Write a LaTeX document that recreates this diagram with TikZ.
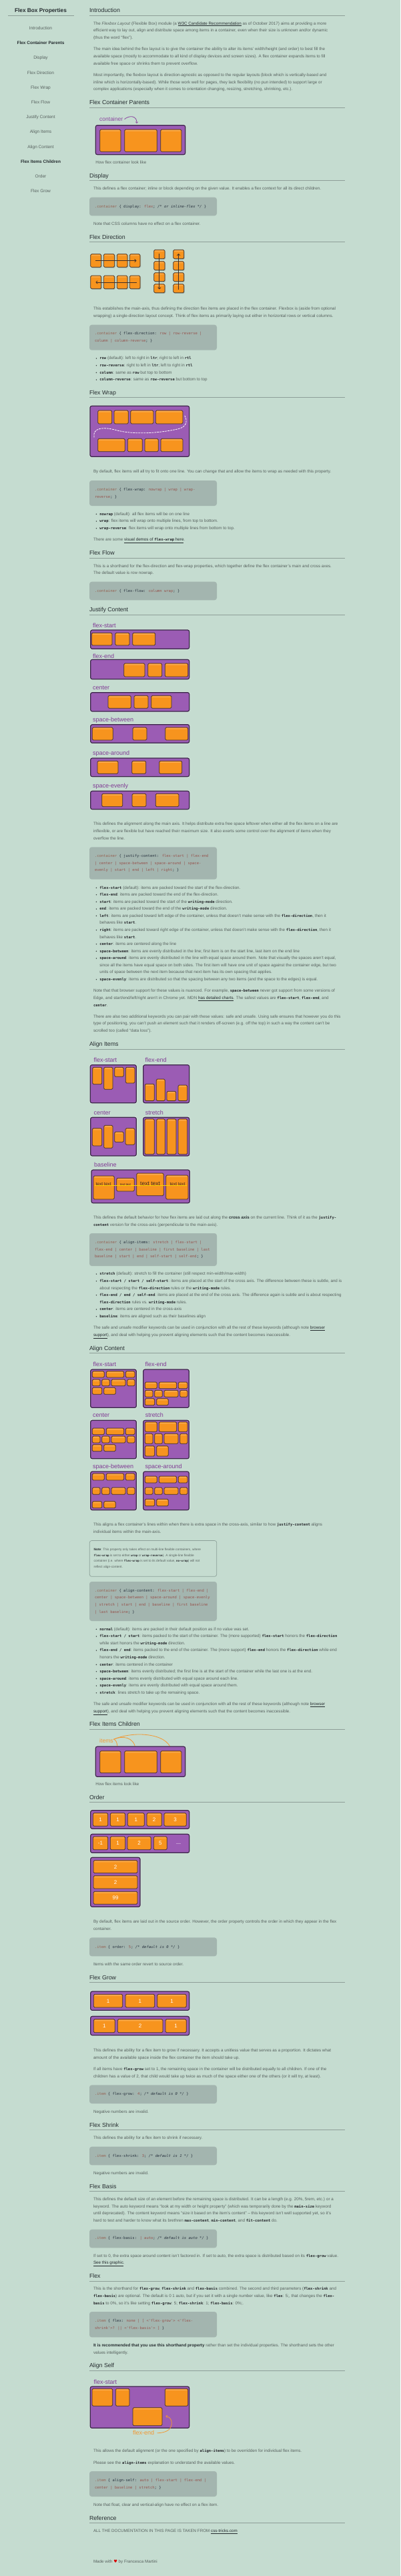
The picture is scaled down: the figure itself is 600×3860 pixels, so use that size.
\documentclass[tikz,border=0pt]{standalone}
\usepackage{fontspec}
\setmainfont{Liberation Sans}
\newfontfamily\codefont[Scale=0.88]{DejaVu Sans Mono}
\newfontfamily\symfont{DejaVu Sans}
\usetikzlibrary{arrows.meta}
\definecolor{bg}{RGB}{197,220,208}
\definecolor{bodyc}{RGB}{88,98,95}
\definecolor{headc}{RGB}{38,45,48}
\definecolor{rulec}{RGB}{142,158,152}
\definecolor{codebg}{RGB}{163,181,175}
\definecolor{csel}{RGB}{150,98,82}
\definecolor{cval}{RGB}{150,84,78}
\definecolor{cdark}{RGB}{40,50,62}
\definecolor{inc}{RGB}{40,42,46}
\definecolor{purp}{RGB}{155,92,180}
\definecolor{pdark}{RGB}{58,40,72}
\definecolor{orng}{RGB}{247,148,30}
\definecolor{odark}{RGB}{62,46,40}
\definecolor{plabel}{RGB}{128,58,148}
\definecolor{clabel}{RGB}{140,70,160}
\definecolor{olabel}{RGB}{242,152,52}
\definecolor{notebd}{RGB}{140,160,152}
\definecolor{bltc}{RGB}{58,42,30}
\definecolor{yline}{RGB}{250,214,0}
\newcommand\bodysize{\fontsize{6.27}{10.67}\selectfont}
\newcommand\notesize{\fontsize{4.8}{8.6}\selectfont}
\newcommand\headsize{\fontsize{8.8}{10}\selectfont}
\newcommand\labsize{\fontsize{9}{9}\selectfont}
\newcommand\IC[1]{{\codefont\bfseries\color{inc}#1}}
\newcommand\LK[1]{{\color{headc}\underline{#1}}}
\newcommand\Csel[1]{\textcolor{csel}{#1}}
\newcommand\Cprop[1]{\textcolor{cdark}{#1}}
\newcommand\Cval[1]{\textcolor{cval}{#1}}
\newcommand\Ccom[1]{\textcolor{cdark}{\itshape #1}}
\newcommand\sq{\textquotesingle}
\newcounter{nid}
\tikzset{
  bodytxt/.style={anchor=base west, inner sep=0pt, outer sep=0pt, font=\bodysize, text=bodyc},
  notetxt/.style={anchor=base west, inner sep=0pt, outer sep=0pt, font=\notesize, text=bodyc},
  headtxt/.style={anchor=base west, inner sep=0pt, outer sep=0pt, font=\headsize, text=headc},
  codetxt/.style={anchor=base west, inner sep=0pt, outer sep=0pt, font=\bodysize\codefont, text=cdark},
  sidetxt/.style={anchor=base, inner sep=0pt, font=\fontsize{6.55}{7}\selectfont, text=bodyc},
  sidebold/.style={anchor=base, inner sep=0pt, font=\fontsize{6.5}{7}\selectfont\bfseries, text=headc},
  plab/.style={anchor=base west, inner sep=0pt, font=\labsize, text=plabel},
  olab/.style={anchor=base west, inner sep=0pt, font=\fontsize{8.6}{9}\selectfont, text=olabel},
  numtxt/.style={inner sep=0pt, font=\fontsize{8}{8}\selectfont, text=white},
  bltxt/.style={anchor=base west, inner sep=0pt, text=bltc},
  pbox/.style={fill=purp, draw=pdark, line width=1.2pt, rounded corners=2.5pt,
    preaction={draw=white, draw opacity=0.35, line width=2.8pt}},
  obox/.style={fill=orng, draw=odark, line width=0.7pt, rounded corners=1.6pt},
  ohl/.style={fill=white, fill opacity=0.22, rounded corners=0.8pt},
  dshadow/.style={fill=black, fill opacity=0.18, rounded corners=1.6pt},
  dirarrow/.style={draw=odark, line width=0.8pt, -{Straight Barb[length=2.2pt,width=4.4pt]}},
  oarrow/.style={draw=olabel, line width=0.8pt, -{Straight Barb[length=1.8pt,width=3.4pt]}},
  parrow/.style={draw=clabel, line width=0.8pt, -{Straight Barb[length=1.8pt,width=3.4pt]}},
  rule/.style={draw=rulec, line width=1pt},
}
\newcommand\TL[3][140]{\stepcounter{nid}\node[bodytxt] (t\arabic{nid}) at (#1,{#2+1.9}) {#3};}
\newcommand\NL[2]{\stepcounter{nid}\node[notetxt] (n\arabic{nid}) at (140.7,{#1+1.5}) {#2};}
\newcommand\BL[2]{\fill[bodyc!70!black] (144.4,{#1}) circle (0.85);\TL[149.3]{#1}{#2}}
\newcommand\HD[3]{\stepcounter{nid}\node[headtxt] (h\arabic{nid}) at (134,{#1+3.1}) {#3};\draw[rule] (134,#2) -- (517,#2);}
\newcommand\CB[2]{\fill[codebg, rounded corners=3.5pt] (134,#1) rectangle (325,#2);}
\newcommand\CL[2]{\stepcounter{nid}\node[codetxt] (c\arabic{nid}) at (142,{#1+1.9}) {#2};}
\newcommand\PB[4]{\draw[pbox] ({#1},{#2}) rectangle ({#3},{#4});}
\newcommand\OI[4]{\draw[obox] ({#1},{#2}) rectangle ({#3},{#4});\fill[ohl] ({#1+1.3},{#2+1.1}) rectangle ({#3-1.3},{#2+2.6});}
\newcommand\DI[4]{\fill[dshadow] ({#1+1},{#2+1.2}) rectangle ({#3+1},{#4+1.2});\OI{#1}{#2}{#3}{#4}}
\newcommand\ON[5]{\OI{#1}{#2}{#3}{#4}\stepcounter{nid}\node[numtxt] (o\arabic{nid}) at ({(#1+#3)/2},{(#2+#4)/2+0.3}) {#5};}
\newcommand\PL[3]{\stepcounter{nid}\node[plab] (l\arabic{nid}) at (#1,{#2+3.0}) {#3};}
% align-content box: left x, top, bottom, then three row y-ranges
\newcommand\ACB[9]{\PB{#1}{#2}{#1+68.6}{#3}%
  \OI{#1+2.6}{#4}{#1+20.6}{#5}\OI{#1+23.6}{#4}{#1+50}{#5}\OI{#1+52.6}{#4}{#1+66.3}{#5}%
  \OI{#1+2.6}{#6}{#1+14.3}{#7}\OI{#1+17}{#6}{#1+28.6}{#7}\OI{#1+31.3}{#6}{#1+52.3}{#7}\OI{#1+55}{#6}{#1+66.3}{#7}%
  \OI{#1+2.6}{#8}{#1+17}{#9}\OI{#1+20}{#8}{#1+37.6}{#9}}
\begin{document}
\begin{tikzpicture}[x=1pt,y=-1pt]
\fill[bg] (0,0) rectangle (600,3860);
\useasboundingbox (0,0) rectangle (600,3860);

% ---------------- sidebar
\node[anchor=base, inner sep=0pt, font=\fontsize{8.3}{9}\selectfont\bfseries, text=headc] (sbtitle) at (61,18.7) {Flex Box Properties};
\draw[rule] (12,23.3) -- (111,23.3);
\node[sidetxt]  (sb1)  at (61,44.2)  {Introduction};
\node[sidebold] (sb2)  at (61,66.5)  {Flex Container Parents};
\node[sidetxt]  (sb3)  at (61,88.9)  {Display};
\node[sidetxt]  (sb4)  at (61,111.2) {Flex Direction};
\node[sidetxt]  (sb5)  at (61,133.2) {Flex Wrap};
\node[sidetxt]  (sb6)  at (61,155.2) {Flex Flow};
\node[sidetxt]  (sb7)  at (61,177.5) {Justify Content};
\node[sidetxt]  (sb8)  at (61,199.9) {Align Items};
\node[sidetxt]  (sb9)  at (61,222.2) {Align Content};
\node[sidebold] (sb10) at (61,244.2) {Flex Items Children};
\node[sidetxt]  (sb11) at (61,266.2) {Order};
\node[sidetxt]  (sb12) at (61,288.5) {Flex Grow};

% ---------------- Introduction
\HD{15.7}{23.3}{Introduction}
\TL{35.3}{The \textit{Flexbox Layout} (Flexible Box) module (a \LK{W3C Candidate Recommendation} as of October 2017) aims at providing a more}
\TL{46}{efficient way to lay out, align and distribute space among items in a container, even when their size is unknown and/or dynamic}
\TL{56.7}{(thus the word “flex”).}
\TL{74}{The main idea behind the flex layout is to give the container the ability to alter its items’ width/height (and order) to best fill the}
\TL{84.7}{available space (mostly to accommodate to all kind of display devices and screen sizes). A flex container expands items to fill}
\TL{95.3}{available free space or shrinks them to prevent overflow.}
\TL{113}{Most importantly, the flexbox layout is direction-agnostic as opposed to the regular layouts (block which is vertically-based and}
\TL{123.3}{inline which is horizontally-based). While those work well for pages, they lack flexibility (no pun intended) to support large or}
\TL{134}{complex applications (especially when it comes to orientation changing, resizing, stretching, shrinking, etc.).}

% ---------------- Flex Container Parents
\HD{153.7}{161.7}{Flex Container Parents}
\node[anchor=base west, inner sep=0pt, font=\fontsize{8.5}{9}\selectfont, text=clabel] (lblcontainer) at (149,181.6) {container};
\coordinate (cstart) at (186.5,178.6);
\coordinate (ctarget) at (205,185);
\draw[parrow] (cstart) .. controls (194,172.5) and (205,173) .. (ctarget);
\PB{143.3}{187.7}{277.7}{231.7}
\OI{149.7}{194}{181}{227.3}\OI{186.7}{194}{235.3}{227.3}\OI{240.7}{194}{272}{227.3}
\TL[143.3]{243.7}{How flex container look like}

% ---------------- Display
\HD{263.3}{270.7}{Display}
\TL{282.7}{This defines a flex container; inline or block depending on the given value. It enables a flex context for all its direct children.}
\CB{295.7}{323.3}
\CL{309.3}{\Csel{.container} \{ \Cprop{display:} \Cval{flex}; \Ccom{/* or inline-flex */} \}}
\TL{335.3}{Note that CSS columns have no effect on a flex container.}

% ---------------- Flex Direction
\HD{355}{362.7}{Flex Direction}
\DI{135.7}{380.7}{151.7}{400.3}\DI{155.3}{380.7}{171.7}{400.3}\DI{175.3}{380.7}{191}{400.3}\DI{194.3}{380.7}{210}{400.3}
\DI{135.7}{413}{151.7}{432.7}\DI{155.3}{413}{171.7}{432.7}\DI{175.3}{413}{191}{432.7}\DI{194.3}{413}{210}{432.7}
\DI{230.7}{374.3}{247}{387.7}\DI{230.7}{391.7}{247}{404.7}\DI{230.7}{408.7}{247}{421.7}\DI{230.7}{425.7}{247}{438.7}
\DI{259.7}{374.3}{275.7}{387.7}\DI{259.7}{391.7}{275.7}{404.7}\DI{259.7}{408.7}{275.7}{421.7}\DI{259.7}{425.7}{275.7}{438.7}
\coordinate (r1a) at (143.3,390.7); \coordinate (r1b) at (204.5,390.7);
\coordinate (r2a) at (204.5,423);   \coordinate (r2b) at (143.3,423);
\coordinate (c1a) at (238.8,380);   \coordinate (c1b) at (238.8,433.5);
\coordinate (c2a) at (267.7,433.5); \coordinate (c2b) at (267.7,380);
\draw[dirarrow] (r1a) -- (r1b);
\draw[dirarrow] (r2a) -- (r2b);
\draw[dirarrow] (c1a) -- (c1b);
\draw[dirarrow] (c2a) -- (c2b);
\TL{463}{This establishes the main-axis, thus defining the direction flex items are placed in the flex container. Flexbox is (aside from optional}
\TL{474}{wrapping) a single-direction layout concept. Think of flex items as primarily laying out either in horizontal rows or vertical columns.}
\CB{486.7}{524.7}
\CL{500}{\Csel{.container} \{ \Cprop{flex-direction:} \Cval{row | row-reverse |}}
\CL{511}{\Cval{column | column-reverse}; \}}
\BL{537}{\IC{row} (default): left to right in \IC{ltr}; right to left in \IC{rtl}}
\BL{547.7}{\IC{row-reverse}: right to left in \IC{ltr}; left to right in \IC{rtl}}
\BL{558.3}{\IC{column}: same as \IC{row} but top to bottom}
\BL{569}{\IC{column-reverse}: same as \IC{row-reverse} but bottom to top}

% ---------------- Flex Wrap
\HD{588.3}{595.7}{Flex Wrap}
\PB{135}{608.3}{283.7}{684.3}
\OI{146.7}{615}{167.7}{635}\OI{171}{615}{192.3}{635}\OI{195.7}{615}{230}{635}\OI{233.3}{615}{274}{635}
\OI{146.7}{657.3}{187.3}{676.7}\OI{191.3}{657.3}{213.3}{676.7}\OI{217}{657.3}{237.3}{676.7}\OI{241}{657.3}{274}{676.7}
\draw[white, line width=0.8pt, dash pattern=on 2.4pt off 1.6pt, line cap=round]
  (277,623) .. controls (281,631) and (280,639) .. (268,642.5)
  .. controls (240,649) and (200,652) .. (172,644)
  .. controls (156,640) and (143,641) .. (141,650) -- (141,656);
\TL{707}{By default, flex items will all try to fit onto one line. You can change that and allow the items to wrap as needed with this property.}
\CB{720}{758}
\CL{733.7}{\Csel{.container} \{ \Cprop{flex-wrap:} \Cval{nowrap | wrap | wrap-}}
\CL{744.3}{\Cval{reverse}; \}}
\BL{770.3}{\IC{nowrap} (default): all flex items will be on one line}
\BL{781}{\IC{wrap}: flex items will wrap onto multiple lines, from top to bottom.}
\BL{791.7}{\IC{wrap-reverse}: flex items will wrap onto multiple lines from bottom to top.}
\TL{809}{There are some \LK{visual demos of \IC{flex-wrap} here}.}

% ---------------- Flex Flow
\HD{828.7}{836}{Flex Flow}
\TL{848.3}{This is a shorthand for the flex-direction and flex-wrap properties, which together define the flex container’s main and cross axes.}
\TL{859}{The default value is row nowrap.}
\CB{871.7}{899.3}
\CL{885.7}{\Csel{.container} \{ \Cprop{flex-flow:} \Cval{column wrap}; \}}

% ---------------- Justify Content
\HD{913.7}{921.3}{Justify Content}
\PL{139}{937.3}{flex-start}
\PB{135.7}{944}{283.7}{972.3}
\OI{137.3}{948.3}{168}{967}\OI{172.7}{948.3}{194}{967}\OI{198.7}{948.3}{232.7}{967}
\PL{139}{983.3}{flex-end}
\PB{135.7}{988.3}{283.7}{1017.7}
\OI{185.7}{994}{217}{1014}\OI{221.7}{994}{242.7}{1014}\OI{247.3}{994}{281.7}{1014}
\PL{139}{1030.3}{center}
\PB{135.7}{1037.7}{283.7}{1066}
\OI{162}{1042.3}{196.3}{1061.3}\OI{201}{1042.3}{222}{1061.3}\OI{226.7}{1042.3}{257}{1061.3}
\PL{139}{1078}{space-between}
\PB{135.7}{1085.7}{283.7}{1113.3}
\OI{138.3}{1090}{169.3}{1109}\OI{199}{1090}{220}{1109}\OI{247.7}{1090}{281.7}{1109}
\PL{139}{1128.3}{space-around}
\PB{135.7}{1136}{283.7}{1163.7}
\OI{146}{1140.3}{177}{1159.3}\OI{197.7}{1140.3}{218.7}{1159.3}\OI{238.7}{1140.3}{272.7}{1159.3}
\PL{139}{1177.7}{space-evenly}
\PB{135.7}{1185.3}{283.7}{1212.7}
\OI{152.7}{1189.3}{183.7}{1208.7}\OI{198}{1189.3}{219}{1208.7}\OI{233.3}{1189.3}{268}{1208.7}
\TL{1235}{This defines the alignment along the main axis. It helps distribute extra free space leftover when either all the flex items on a line are}
\TL{1245.7}{inflexible, or are flexible but have reached their maximum size. It also exerts some control over the alignment of items when they}
\TL{1256.3}{overflow the line.}
\CB{1269.3}{1317.7}
\CL{1283}{\Csel{.container} \{ \Cprop{justify-content:} \Cval{flex-start | flex-end}}
\CL{1293.3}{\Cval{| center | space-between | space-around | space-}}
\CL{1304}{\Cval{evenly | start | end | left | right}; \}}
\BL{1330.3}{\IC{flex-start} (default): items are packed toward the start of the flex-direction.}
\BL{1340.7}{\IC{flex-end}: items are packed toward the end of the flex-direction.}
\BL{1351.3}{\IC{start}: items are packed toward the start of the \IC{writing-mode} direction.}
\BL{1362}{\IC{end}: items are packed toward the end of the \IC{writing-mode} direction.}
\BL{1372.3}{\IC{left}: items are packed toward left edge of the container, unless that doesn’t make sense with the \IC{flex-direction}, then it}
\TL[149.3]{1383}{behaves like \IC{start}.}
\BL{1393.7}{\IC{right}: items are packed toward right edge of the container, unless that doesn’t make sense with the \IC{flex-direction}, then it}
\TL[149.3]{1404.3}{behaves like \IC{start}.}
\BL{1414.7}{\IC{center}: items are centered along the line}
\BL{1425.3}{\IC{space-between}: items are evenly distributed in the line; first item is on the start line, last item on the end line}
\BL{1436}{\IC{space-around}: items are evenly distributed in the line with equal space around them. Note that visually the spaces aren’t equal,}
\TL[149.3]{1446.3}{since all the items have equal space on both sides. The first item will have one unit of space against the container edge, but two}
\TL[149.3]{1457}{units of space between the next item because that next item has its own spacing that applies.}
\BL{1467.7}{\IC{space-evenly}: items are distributed so that the spacing between any two items (and the space to the edges) is equal.}
\TL{1485}{Note that that browser support for these values is nuanced. For example, \IC{space-between} never got support from some versions of}
\TL{1495.7}{Edge, and start/end/left/right aren’t in Chrome yet. MDN \LK{has detailed charts}. The safest values are \IC{flex-start}, \IC{flex-end}, and}
\TL{1506.3}{\IC{center}.}
\TL{1523.3}{There are also two additional keywords you can pair with these values: safe and unsafe. Using safe ensures that however you do this}
\TL{1534}{type of positioning, you can’t push an element such that it renders off-screen (e.g. off the top) in such a way the content can’t be}
\TL{1544.7}{scrolled too (called “data loss”).}

% ---------------- Align Items
\HD{1564.3}{1572}{Align Items}
\PL{140.3}{1588.3}{flex-start}
\PL{217.3}{1588.3}{flex-end}
\PB{135.3}{1595.7}{204.3}{1652.7}
\OI{138.7}{1599.3}{152.7}{1624.7}\OI{155.7}{1599.3}{169}{1632.3}\OI{171.7}{1599.3}{185.3}{1613.3}\OI{188.3}{1599.3}{202}{1623}
\PB{214.7}{1595.7}{283.7}{1652.7}
\OI{217.3}{1624.3}{231.3}{1649.5}\OI{234.3}{1617}{247.3}{1649.5}\OI{250}{1635.3}{263.7}{1649.5}\OI{267}{1626}{280.7}{1649.5}
\PL{140.3}{1667}{center}
\PL{217.7}{1667}{stretch}
\PB{135.7}{1674.3}{204.3}{1732}
\OI{138.3}{1690.7}{152.7}{1717}\OI{155.7}{1686.3}{169}{1720.3}\OI{171.7}{1696}{185.3}{1711.3}\OI{188}{1690.7}{202}{1715.3}
\PB{214.7}{1674.3}{283.7}{1732}
\OI{217}{1676.7}{231.3}{1729.7}\OI{234.7}{1676.7}{247.3}{1729.7}\OI{250.3}{1676.7}{264}{1729.7}\OI{267}{1676.7}{280.7}{1729.7}
\PL{141}{1745.3}{baseline}
\PB{137}{1753}{284.3}{1802.7}
\OI{140}{1762}{171.3}{1797}\OI{174.7}{1765.3}{201.3}{1785}\OI{204.7}{1758}{245.3}{1791.7}\OI{248.7}{1761}{282}{1797}
\node[bltxt, font=\fontsize{6.6}{7}\selectfont] (bt1) at (143.3,1776) {text text};
\node[bltxt, font=\fontsize{4.5}{5}\selectfont] (bt2) at (180,1776) {text text};
\node[bltxt, font=\fontsize{8.5}{9}\selectfont] (bt3) at (210,1776) {text text};
\node[bltxt, font=\fontsize{6.6}{7}\selectfont] (bt4) at (254.3,1776) {text text};
\coordinate (bla) at (141.7,1776); \coordinate (blb) at (280,1776);
\draw[yline, line width=0.9pt] (bla) -- (blb);
\TL{1824.7}{This defines the default behavior for how flex items are laid out along the {\color{headc}\bfseries cross axis} on the current line. Think of it as the \IC{justify-}}
\TL{1835.3}{\IC{content} version for the cross-axis (perpendicular to the main-axis).}
\CB{1848}{1897}
\CL{1861.7}{\Csel{.container} \{ \Cprop{align-items:} \Cval{stretch | flex-start |}}
\CL{1872.3}{\Cval{flex-end | center | baseline | first baseline | last}}
\CL{1883}{\Cval{baseline | start | end | self-start | self-end}; \}}
\BL{1909}{\IC{stretch} (default): stretch to fill the container (still respect min-width/max-width)}
\BL{1919.7}{\IC{flex-start / start / self-start}: items are placed at the start of the cross axis. The difference between these is subtle, and is}
\TL[149.3]{1930.3}{about respecting the \IC{flex-direction} rules or the \IC{writing-mode} rules.}
\BL{1940.7}{\IC{flex-end / end / self-end}: items are placed at the end of the cross axis. The difference again is subtle and is about respecting}
\TL[149.3]{1951.3}{\IC{flex-direction} rules vs. \IC{writing-mode} rules.}
\BL{1962}{\IC{center}: items are centered in the cross-axis}
\BL{1972.7}{\IC{baseline}: items are aligned such as their baselines align}
\TL{1990}{The safe and unsafe modifier keywords can be used in conjunction with all the rest of these keywords (although note \LK{browser}}
\TL{2000.7}{\LK{support}), and deal with helping you prevent aligning elements such that the content becomes inaccessible.}

% ---------------- Align Content
\HD{2020}{2027.7}{Align Content}
\PL{139.3}{2044.3}{flex-start}
\PL{217.3}{2044.3}{flex-end}
\ACB{135.7}{2052}{2109.3}{2054.7}{2064}{2067}{2076.7}{2079.3}{2089.3}
\ACB{214.7}{2052}{2109.3}{2071}{2080.7}{2083.3}{2093.3}{2095.7}{2105.7}
\PL{139}{2120.7}{center}
\PL{217.7}{2120.7}{stretch}
\ACB{135.7}{2128.3}{2185.7}{2140}{2149.7}{2152}{2162}{2164.7}{2174.7}
\ACB{214.7}{2128.3}{2185.7}{2130.7}{2145.3}{2148.3}{2163.3}{2166.7}{2182}
\PL{139}{2197.3}{space-between}
\PL{217.3}{2197.3}{space-around}
\ACB{135.7}{2205}{2262.7}{2208}{2218}{2229}{2239.3}{2249.7}{2259.7}
\ACB{214.7}{2205}{2262.7}{2212}{2222}{2229}{2239.3}{2246.3}{2256.7}
\TL{2285}{This aligns a flex container’s lines within when there is extra space in the cross-axis, similar to how \IC{justify-content} aligns}
\TL{2295.3}{individual items within the main-axis.}
\draw[notebd, line width=0.7pt, rounded corners=3pt] (134.3,2308.5) rectangle (324.7,2362.3);
\NL{2322.3}{{\color{headc}\bfseries Note}: This property only takes effect on multi-line flexible containers, where}
\NL{2331}{\IC{flex-wrap} is set to either \IC{wrap} or \IC{wrap-reverse}). A single-line flexible}
\NL{2339.3}{container (i.e. where \IC{flex-wrap} is set to its default value, \IC{no-wrap}) will not}
\NL{2348}{reflect align-content.}
\CB{2370}{2429}
\CL{2383.7}{\Csel{.container} \{ \Cprop{align-content:} \Cval{flex-start | flex-end |}}
\CL{2394}{\Cval{center | space-between | space-around | space-evenly}}
\CL{2404.7}{\Cval{| stretch | start | end | baseline | first baseline}}
\CL{2415.3}{\Cval{| last baseline}; \}}
\BL{2441.3}{\IC{normal} (default): items are packed in their default position as if no value was set.}
\BL{2452}{\IC{flex-start / start}: items packed to the start of the container. The (more supported) \IC{flex-start} honors the \IC{flex-direction}}
\TL[149.3]{2462.7}{while start honors the \IC{writing-mode} direction.}
\BL{2473}{\IC{flex-end / end}: items packed to the end of the container. The (more support) \IC{flex-end} honors the \IC{flex-direction} while end}
\TL[149.3]{2483.7}{honors the \IC{writing-mode} direction.}
\BL{2494.3}{\IC{center}: items centered in the container}
\BL{2504.7}{\IC{space-between}: items evenly distributed; the first line is at the start of the container while the last one is at the end.}
\BL{2515.3}{\IC{space-around}: items evenly distributed with equal space around each line.}
\BL{2526}{\IC{space-evenly}: items are evenly distributed with equal space around them.}
\BL{2536.7}{\IC{stretch}: lines stretch to take up the remaining space.}
\TL{2553.7}{The safe and unsafe modifier keywords can be used in conjunction with all the rest of these keywords (although note \LK{browser}}
\TL{2564.3}{\LK{support}), and deal with helping you prevent aligning elements such that the content becomes inaccessible.}

% ---------------- Flex Items Children
\HD{2583.7}{2591.3}{Flex Items Children}
\node[olab] (lblitems) at (149,2611.6) {items};
\coordinate (ista) at (170.3,2606.3);
\coordinate (it1) at (176,2622.3);
\coordinate (it2) at (203.3,2622);
\coordinate (it3) at (256.7,2622.3);
\draw[oarrow] (ista) .. controls (174,2606.5) and (176,2612) .. (it1);
\draw[oarrow] (ista) .. controls (183,2600.5) and (201,2602) .. (it2);
\draw[oarrow] (ista) .. controls (198,2594) and (250,2596) .. (it3);
\PB{143.3}{2617}{277.7}{2662.3}
\OI{149.7}{2623.7}{181}{2656.7}\OI{186.7}{2623.7}{235.3}{2656.7}\OI{240.7}{2623.7}{272}{2656.7}
\TL[143.3]{2673.7}{How flex items look like}

% ---------------- Order
\HD{2693}{2700.7}{Order}
\PB{135.7}{2712.7}{283.7}{2740.3}
\ON{139.3}{2716.7}{161.7}{2736.3}{1}\ON{165.3}{2716.7}{187.7}{2736.3}{1}\ON{191.3}{2716.7}{216.3}{2736.3}{1}\ON{220}{2716.7}{242.3}{2736.3}{2}\ON{246}{2716.7}{279.3}{2736.3}{3}
\PB{135.7}{2748.3}{283.7}{2776.3}
\ON{139.3}{2752}{161.7}{2771.7}{-1}\ON{165.3}{2752}{187.7}{2771.7}{1}\ON{191}{2752}{226.3}{2771.7}{2}\ON{230.3}{2752}{250.3}{2771.7}{5}
\draw[purp!65!white, line width=0.6pt] (263.5,2762.7) -- (270.5,2762.7);
\PB{135.7}{2783.3}{210}{2857.3}
\ON{140}{2787.7}{206}{2806.7}{2}\ON{140}{2810.7}{206}{2830}{2}\ON{140}{2834.3}{206}{2853.3}{99}
\TL{2880}{By default, flex items are laid out in the source order. However, the order property controls the order in which they appear in the flex}
\TL{2890.7}{container.}
\CB{2903.3}{2931.3}
\CL{2917.3}{\Csel{.item} \{ \Cprop{order:} \Cval{5}; \Ccom{/* default is 0 */} \}}
\TL{2943.3}{Items with the same order revert to source order.}

% ---------------- Flex Grow
\HD{2963}{2970.7}{Flex Grow}
\PB{135.7}{2984}{283.7}{3012.3}
\ON{140.3}{2988.3}{183.7}{3008}{1}\ON{188}{2988.3}{231.7}{3008}{1}\ON{235.7}{2988.3}{279.3}{3008}{1}
\PB{135.7}{3021.3}{283.7}{3049.7}
\ON{140.3}{3025.7}{172.3}{3045.7}{1}\ON{176.3}{3025.7}{244}{3045.7}{2}\ON{248}{3025.7}{279.3}{3045.7}{1}
\TL{3073}{This defines the ability for a flex item to grow if necessary. It accepts a unitless value that serves as a proportion. It dictates what}
\TL{3083.3}{amount of the available space inside the flex container the item should take up.}
\TL{3101}{If all items have \IC{flex-grow} set to 1, the remaining space in the container will be distributed equally to all children. If one of the}
\TL{3111.7}{children has a value of 2, that child would take up twice as much of the space either one of the others (or it will try, at least).}
\CB{3124.3}{3152}
\CL{3138}{\Csel{.item} \{ \Cprop{flex-grow:} \Cval{4}; \Ccom{/* default is 0 */} \}}
\TL{3164.3}{Negative numbers are invalid.}

% ---------------- Flex Shrink
\HD{3184}{3191.3}{Flex Shrink}
\TL{3203.7}{This defines the ability for a flex item to shrink if necessary.}
\CB{3216.7}{3244.3}
\CL{3230.3}{\Csel{.item} \{ \Cprop{flex-shrink:} \Cval{3}; \Ccom{/* default is 1 */} \}}
\TL{3256.7}{Negative numbers are invalid.}

% ---------------- Flex Basis
\HD{3276}{3283.3}{Flex Basis}
\TL{3295.7}{This defines the default size of an element before the remaining space is distributed. It can be a length (e.g. 20\%, 5rem, etc.) or a}
\TL{3306.7}{keyword. The auto keyword means “look at my width or height property” (which was temporarily done by the \IC{main-size} keyword}
\TL{3317}{until deprecated). The content keyword means “size it based on the item’s content” – this keyword isn’t well supported yet, so it’s}
\TL{3327.7}{hard to test and harder to know what its brethren \IC{max-content}, \IC{min-content}, and \IC{fit-content} do.}
\CB{3340.7}{3368.3}
\CL{3354}{\Csel{.item} \{ \Cprop{flex-basis:} \Cval{| auto}; \Ccom{/* default is auto */} \}}
\TL{3380.7}{If set to 0, the extra space around content isn’t factored in. If set to auto, the extra space is distributed based on its \IC{flex-grow} value.}
\TL{3391}{\LK{See this graphic}.}

% ---------------- Flex
\HD{3410.3}{3418}{Flex}
\TL{3430}{This is the shorthand for \IC{flex-grow}, \IC{flex-shrink} and \IC{flex-basis} combined. The second and third parameters (\IC{flex-shrink} and}
\TL{3440.7}{\IC{flex-basis}) are optional. The default is 0 1 auto, but if you set it with a single number value, like \IC{flex}: 5;, that changes the \IC{flex-}}
\TL{3451.3}{\IC{basis} to 0\%, so it’s like setting \IC{flex-grow}: 5; \IC{flex-shrink}: 1; \IC{flex-basis}: 0\%;.}
\CB{3464}{3502.3}
\CL{3478}{\Csel{.item} \{ \Cprop{flex:} \Cval{none | [ <\sq flex-grow\sq> <\sq flex-}}
\CL{3488.3}{\Cval{shrink\sq>? || <\sq flex-basis\sq> ]} \}}
\TL{3514.7}{{\color{headc}\bfseries It is recommended that you use this shorthand property} rather than set the individual properties. The shorthand sets the other}
\TL{3525.3}{values intelligently.}

% ---------------- Align Self
\HD{3544.7}{3552.3}{Align Self}
\PL{140.3}{3569}{flex-start}
\PB{135.3}{3576}{283.7}{3638.3}
\OI{138}{3579.3}{168.7}{3605.3}\OI{173.3}{3579.3}{194}{3605.3}\OI{199}{3607.7}{243}{3634.7}\OI{247.3}{3579.3}{281.7}{3605.3}
\node[olab, font=\fontsize{9}{9}\selectfont] (lblflexend) at (199,3648.7) {flex-end};
\coordinate (fes) at (235.5,3645.7);
\coordinate (fet) at (248.3,3620.6);
\draw[oarrow] (fes) .. controls (251,3645.5) and (258,3639) .. (257.2,3629.5) .. controls (256.6,3624) and (253,3621) .. (fet);
\TL{3672.7}{This allows the default alignment (or the one specified by \IC{align-items}) to be overridden for individual flex items.}
\TL{3690.3}{Please see the \IC{align-items} explanation to understand the available values.}
\CB{3703}{3741}
\CL{3717}{\Csel{.item} \{ \Cprop{align-self:} \Cval{auto | flex-start | flex-end |}}
\CL{3727.3}{\Cval{center | baseline | stretch}; \}}
\TL{3753.3}{Note that float, clear and vertical-align have no effect on a flex item.}

% ---------------- Reference
\HD{3773.3}{3780.7}{Reference}
\TL{3793}{ALL THE DOCUMENTATION IN THIS PAGE IS TAKEN FROM \LK{css-tricks.com}}
\TL{3838.3}{Made with {\symfont\color{red!85!black}♥} by Francesca Martini}
\end{tikzpicture}
\end{document}
